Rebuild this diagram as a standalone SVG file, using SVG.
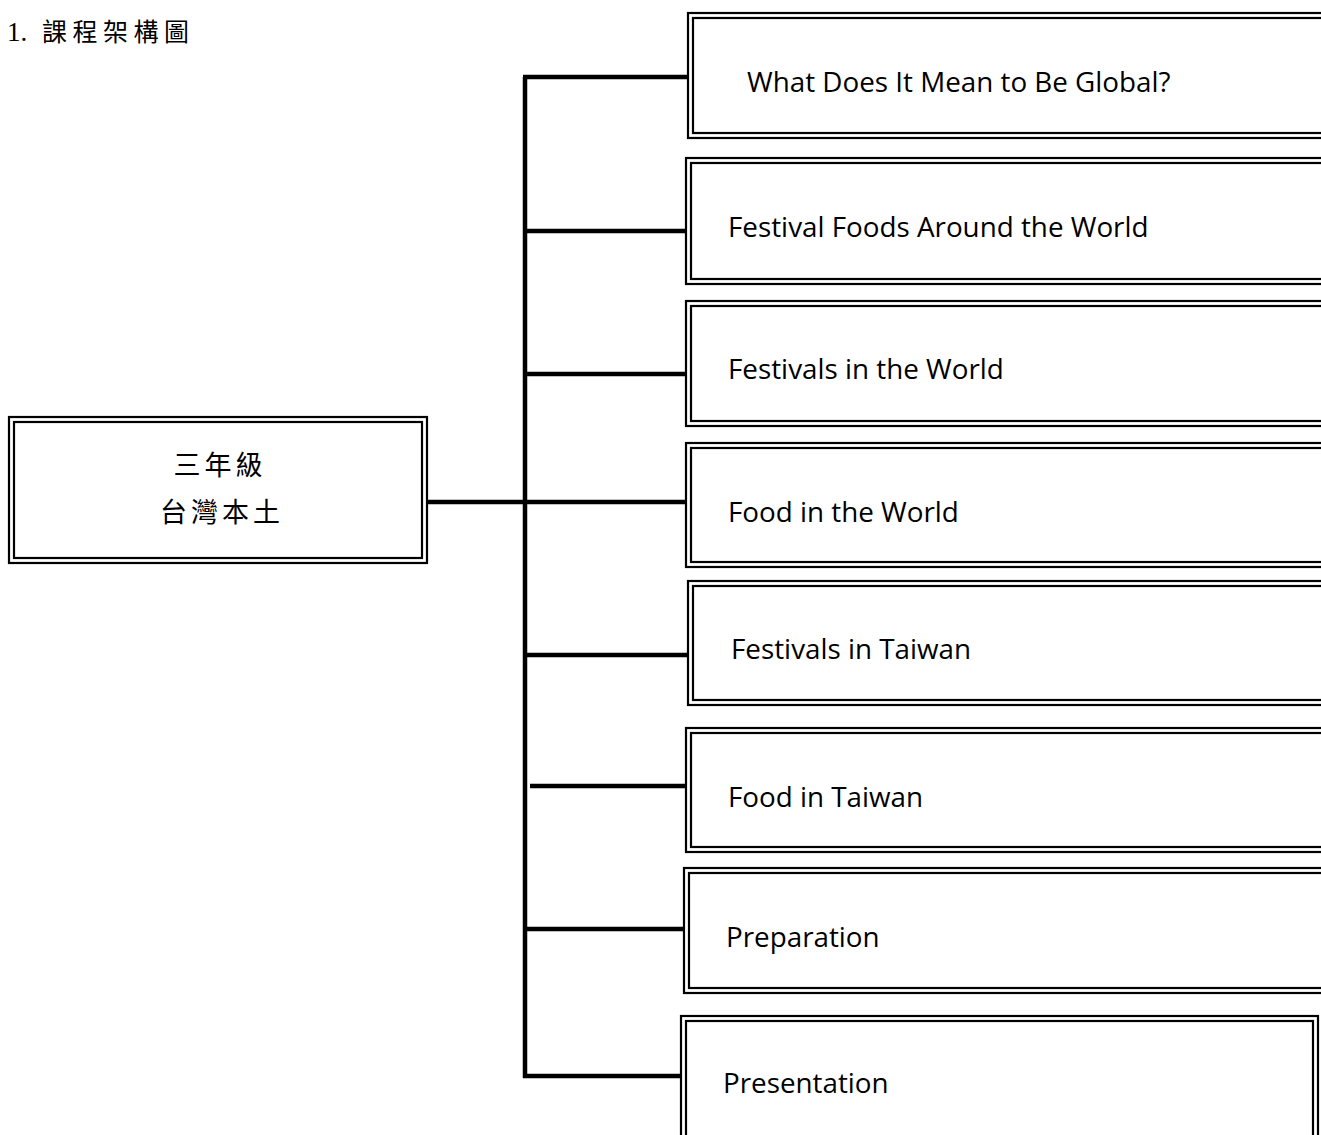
<svg xmlns="http://www.w3.org/2000/svg" width="1321" height="1135" viewBox="0 0 1321 1135">
<style>
.o{fill:#fff;stroke:#000;stroke-width:2.2}
.i{fill:none;stroke:#000;stroke-width:2.2}
.t{font-family:"Open Sans","Noto Sans",sans-serif;font-size:27.8px;fill:#000}
.c{font-family:"Liberation Serif","Noto Sans CJK TC",serif;font-size:27px;letter-spacing:4px;fill:#000;text-anchor:middle}
.ln{stroke:#000;stroke-width:4.5;fill:none}
</style>
<rect width="1321" height="1135" fill="#fff"/>
<text x="7" y="41" font-family="Liberation Serif, Noto Sans CJK TC, serif" font-size="27">1.<tspan x="42" font-size="25" letter-spacing="5.5">課程架構圖</tspan></text>
<g id="connectors">
<line class="ln" x1="525" y1="77" x2="525" y2="1078"/>
<line class="ln" x1="523" y1="77" x2="690" y2="77"/>
<line class="ln" x1="525" y1="231" x2="687" y2="231"/>
<line class="ln" x1="525" y1="374" x2="687" y2="374"/>
<line class="ln" x1="428" y1="502" x2="687" y2="502" stroke-width="3.2"/>
<line class="ln" x1="525" y1="655" x2="690" y2="655"/>
<line class="ln" x1="530" y1="786" x2="687" y2="786"/>
<line class="ln" x1="525" y1="929" x2="685" y2="929"/>
<line class="ln" x1="523" y1="1076" x2="682" y2="1076"/>
</g>
<g id="root">
<rect class="o" x="9" y="417" width="418" height="146"/>
<rect class="i" x="14" y="422" width="408" height="136"/>
<text class="c" x="220" y="475">三年級</text>
<text class="c" x="222" y="522">台灣本土</text>
</g>
<g id="n1">
<rect class="o" x="688" y="13" width="660" height="125"/>
<rect class="i" x="693" y="18" width="660" height="115"/>
<text class="t" x="747" y="92">What Does It Mean to Be Global?</text>
</g>
<g id="n2">
<rect class="o" x="686" y="158" width="660" height="126"/>
<rect class="i" x="691" y="163" width="660" height="116"/>
<text class="t" x="728" y="237">Festival Foods Around the World</text>
</g>
<g id="n3">
<rect class="o" x="686" y="301" width="660" height="125"/>
<rect class="i" x="691" y="306" width="660" height="115"/>
<text class="t" x="728" y="379">Festivals in the World</text>
</g>
<g id="n4">
<rect class="o" x="686" y="443" width="660" height="124"/>
<rect class="i" x="691" y="448" width="660" height="114"/>
<text class="t" x="728" y="522">Food in the World</text>
</g>
<g id="n5">
<rect class="o" x="688" y="581" width="660" height="124"/>
<rect class="i" x="693" y="586" width="660" height="114"/>
<text class="t" x="731" y="659">Festivals in Taiwan</text>
</g>
<g id="n6">
<rect class="o" x="686" y="728" width="660" height="124"/>
<rect class="i" x="691" y="733" width="660" height="114"/>
<text class="t" x="728" y="807">Food in Taiwan</text>
</g>
<g id="n7">
<rect class="o" x="684" y="868" width="660" height="125"/>
<rect class="i" x="689" y="873" width="660" height="115"/>
<text class="t" x="726" y="947">Preparation</text>
</g>
<g id="n8">
<rect class="o" x="681" y="1016" width="637" height="160"/>
<rect class="i" x="686" y="1021" width="627" height="150"/>
<text class="t" x="723" y="1093">Presentation</text>
</g>
</svg>
